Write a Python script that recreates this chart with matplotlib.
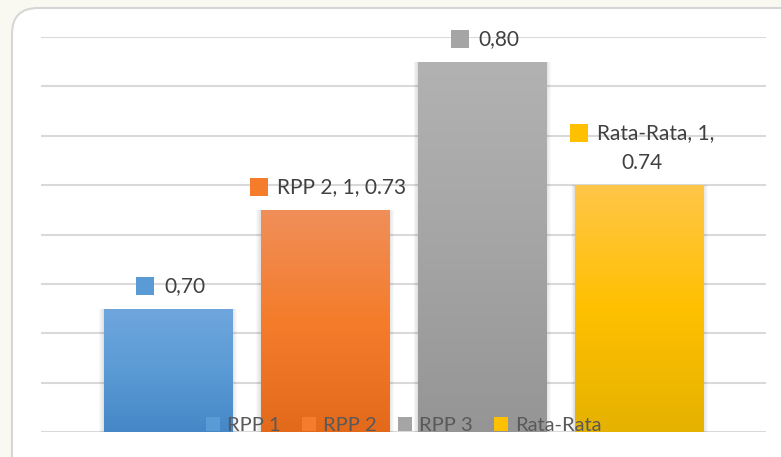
import numpy as np
import matplotlib.pyplot as plt
from matplotlib.patches import FancyBboxPatch, Rectangle
from matplotlib.colors import LinearSegmentedColormap
from matplotlib.offsetbox import AnnotationBbox, DrawingArea, HPacker, VPacker, TextArea
from matplotlib.transforms import IdentityTransform

plt.rcParams['font.family'] = ['Lato', 'DejaVu Sans']

series = ['RPP 1', 'RPP 2', 'RPP 3', 'Rata-Rata']
values = [0.70, 0.74, 0.80, 0.75]
labels = [['0,70'], ['RPP 2, 1, 0.73'], ['0,80'], ['Rata-Rata, 1,', '0.74']]
grad_colors = [
    ['#6fa6dd', '#5b9bd5', '#4587c7'],
    ['#f08f5a', '#f47c2b', '#e36a1b'],
    ['#b2b2b2', '#a5a5a5', '#959595'],
    ['#ffc648', '#ffc000', '#e5b200'],
]
y_min = 0.65
y_max = 0.81
y_step = 0.02

W, H = 781, 457
fig = plt.figure(figsize=(W / 100, H / 100), dpi=100)
fig.patch.set_facecolor('#f9f9f1')

# rounded white panel
panel = FancyBboxPatch((12, -30), 820, H - 8 + 30, boxstyle='round,pad=0,rounding_size=26',
                       transform=IdentityTransform(), facecolor='white', edgecolor='#d6d6d6',
                       linewidth=1.5, zorder=0)
fig.add_artist(panel)

ax = fig.add_axes([41 / W, (H - 432) / H, (766 - 41) / W, (432 - 37) / H])
ax.set_facecolor('none')
x = np.arange(len(series))
width = 0.815
ax.set_yticks(np.arange(y_min, y_max + 0.001, y_step))
ax.yaxis.grid(True, color='#d9d9d9', linewidth=1.5)
ax.set_axisbelow(True)
for s in ax.spines.values():
    s.set_visible(False)
ax.tick_params(left=False, bottom=False, labelleft=False, labelbottom=False)

bars = ax.bar(x, np.array(values) - y_min, width, bottom=y_min, color=[c[1] for c in grad_colors],
              zorder=3)

# soft shadow round each bar
for b in bars:
    for k in range(1, 6):
        d = k * 0.006
        sh = Rectangle((b.get_x() - d, y_min), b.get_width() + 2 * d, b.get_height(),
                       facecolor='black', alpha=0.025, edgecolor='none', zorder=2)
        ax.add_patch(sh)

# vertical gradient fill
for b, cols in zip(bars, grad_colors):
    cmap = LinearSegmentedColormap.from_list('g', cols[::-1])
    grad = np.linspace(0, 1, 256).reshape(-1, 1)
    im = ax.imshow(grad, cmap=cmap, aspect='auto', origin='lower',
                   extent=[b.get_x(), b.get_x() + b.get_width(), y_min, y_min + b.get_height()],
                   zorder=3.5)
    im.set_clip_path(b)
ax.set_xlim(-0.809, 3.806)
ax.set_ylim(y_min, y_max)

# data labels with colour square
fs = 15
for xi, v, lab, cols in zip(x, values, labels, grad_colors):
    da = DrawingArea(13, 13, 0, 0)
    da.add_artist(Rectangle((0, 0), 13, 13, facecolor=cols[1], edgecolor='none'))
    t1 = TextArea(lab[0], textprops=dict(color='#404040', fontsize=fs))
    row = HPacker(children=[da, t1], align='center', pad=0, sep=7)
    if len(lab) > 1:
        t2 = TextArea(lab[1], textprops=dict(color='#404040', fontsize=fs))
        box = VPacker(children=[row, t2], align='center', pad=0, sep=7)
    else:
        box = row
    ab = AnnotationBbox(box, (xi, v), xybox=(2, 9), xycoords='data', boxcoords='offset points',
                        box_alignment=(0.5, 0), frameon=False, zorder=6)
    ax.add_artist(ab)

# legend handles
handles = [Rectangle((0, 0), 1, 1, facecolor=c[1], edgecolor='none') for c in grad_colors]
leg = ax.legend(handles, series, loc='lower center', bbox_to_anchor=(0.5, -0.05), ncol=4,
                frameon=False, fontsize=14.5, handlelength=0.7, handleheight=0.7,
                handletextpad=0.35, columnspacing=1.05, labelcolor='#595959')
leg.set_zorder(7)

fig.savefig('out.png', dpi=100, facecolor=fig.get_facecolor())
